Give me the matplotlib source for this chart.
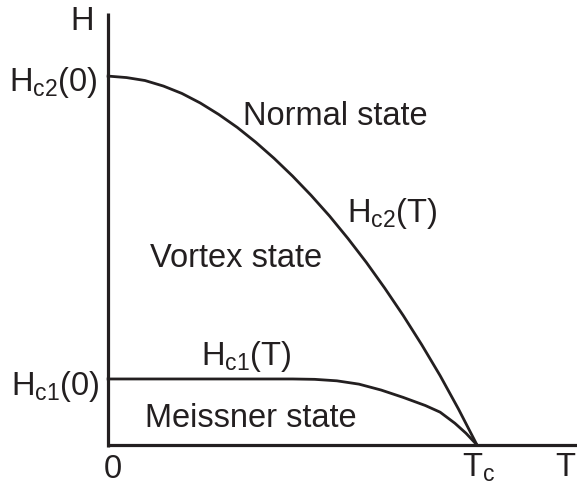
import matplotlib
matplotlib.use('Agg')
from matplotlib import pyplot as plt
import numpy as np

plt.rcParams['font.family'] = ['Liberation Sans', 'DejaVu Sans']
plt.rcParams['mathtext.fontset'] = 'custom'
plt.rcParams['mathtext.rm'] = 'Liberation Sans'
plt.rcParams['mathtext.default'] = 'regular'

# Upper critical field, reduced units: T / Tc and H / Hc2(0).
hc2_t = [0.0, 0.05, 0.1, 0.15, 0.2, 0.25, 0.3, 0.35, 0.4, 0.45, 0.5,
         0.55, 0.6, 0.65, 0.7, 0.75, 0.8, 0.85, 0.9, 0.95, 1.0]
hc2_h = [1.0, 0.996, 0.988, 0.973, 0.953, 0.927, 0.896, 0.861, 0.821, 0.777, 0.729,
         0.677, 0.621, 0.560, 0.495, 0.425, 0.351, 0.272, 0.188, 0.097, 0.0]

# Lower critical field, same units.
hc1_t = [0.0, 0.5, 0.56, 0.62, 0.68, 0.74, 0.8, 0.86, 0.9, 0.94, 0.97, 1.0]
hc1_h = [0.179, 0.179, 0.178, 0.174, 0.165, 0.149, 0.129, 0.107, 0.089, 0.059, 0.032, 0.0]

ink = '#231f20'
size = 23.5

fig = plt.figure(figsize = (5.77, 4.85), dpi = 100)
ax = fig.add_axes([0, 0, 1, 1])
ax.set_xlim(-0.293, 1.271)
ax.set_ylim(-0.1057, 1.209)
ax.axis('off')

# Axes drawn by hand.
ax.plot([0, 0], [-0.005, 1.17], color = ink, lw = 2.3, solid_capstyle = 'butt')
ax.plot([0, 1.3], [0, 0], color = ink, lw = 2.3, solid_capstyle = 'butt')

# Phase boundaries.
ax.plot(hc2_t, hc2_h, color = ink, lw = 2.0, solid_joinstyle = 'round')
ax.plot(hc1_t, hc1_h, color = ink, lw = 2.0, solid_joinstyle = 'round')

# Labels.
ax.text(-0.070, 1.152, 'H', fontsize = size, color = ink, ha = 'center', va = 'center')
ax.text(-0.027, 0.962, r'H$_{c2}$(0)', fontsize = size, color = ink, ha = 'right', va = 'baseline')
ax.text(-0.022, 0.138, r'H$_{c1}$(0)', fontsize = size, color = ink, ha = 'right', va = 'baseline')
ax.text(0.0136, -0.0867, '0', fontsize = size, color = ink, ha = 'center', va = 'baseline')
ax.text(0.959, -0.082, r'T$_{c}$', fontsize = size, color = ink, ha = 'left', va = 'baseline')
ax.text(1.212, -0.082, 'T', fontsize = size, color = ink, ha = 'left', va = 'baseline')

ax.text(0.366, 0.870, 'Normal state', fontsize = size, color = ink, va = 'baseline')
ax.text(0.114, 0.485, 'Vortex state', fontsize = size, color = ink, va = 'baseline')
ax.text(0.100, 0.0515, 'Meissner state', fontsize = size, color = ink, va = 'baseline')
ax.text(0.648, 0.607, r'H$_{c2}$(T)', fontsize = size, color = ink, va = 'baseline')
ax.text(0.252, 0.220, r'H$_{c1}$(T)', fontsize = size, color = ink, va = 'baseline')

plt.savefig('out.png', dpi = 100)
